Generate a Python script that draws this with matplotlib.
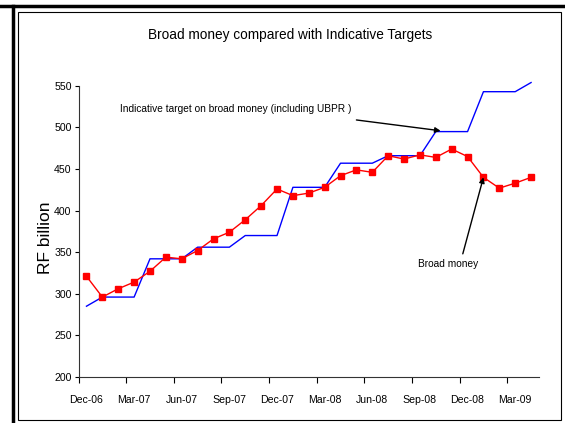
import matplotlib.pyplot as plt
from matplotlib.lines import Line2D
from matplotlib.patches import Rectangle

# monthly data, Dec-06 .. Apr-09
months = ['Dec-06', 'Jan-07', 'Feb-07', 'Mar-07', 'Apr-07', 'May-07', 'Jun-07',
          'Jul-07', 'Aug-07', 'Sep-07', 'Oct-07', 'Nov-07', 'Dec-07',
          'Jan-08', 'Feb-08', 'Mar-08', 'Apr-08', 'May-08', 'Jun-08',
          'Jul-08', 'Aug-08', 'Sep-08', 'Oct-08', 'Nov-08', 'Dec-08',
          'Jan-09', 'Feb-09', 'Mar-09', 'Apr-09']
broad_money = [321, 296, 306, 314, 327, 344, 342, 352, 366, 374, 389, 406, 426,
               418, 421, 428, 442, 449, 446, 466, 462, 467, 464, 474, 465,
               440, 427, 433, 440]
target = [285, 296, 296, 296, 342, 342, 342, 356, 356, 356, 370, 370, 370,
          428, 428, 428, 457, 457, 457, 466, 466, 466, 495, 495, 495,
          543, 543, 543, 554]
yticks = [200, 250, 300, 350, 400, 450, 500, 550]

plt.rcParams['font.family'] = ['Liberation Sans', 'DejaVu Sans']

x = list(range(len(months)))

fig = plt.figure(figsize=(5.65, 4.23), dpi=100)
ax = fig.add_axes([0.139, 0.109, 0.815, 0.688])

ax.plot(x, target, color='#0000ff', lw=1.0, clip_on=False)
ax.plot(x, broad_money, color='#ff0000', lw=1.0, marker='s', markersize=3.7)

ax.set_xlim(-0.5, len(months) - 0.5)
ax.set_ylim(200, 550)
ax.set_yticks(yticks)
ax.tick_params(axis='y', length=3, width=0.8, labelsize=7.6, pad=2)

ax.set_xticks(x[::3])
ax.set_xticklabels(months[::3])
ax.set_xticks([i - 0.5 for i in range(0, len(months) + 1, 3)], minor=True)
ax.tick_params(axis='x', which='major', length=0, labelsize=7.6, pad=13)
ax.tick_params(axis='x', which='minor', length=4, width=0.8)

for s in ['top', 'right']:
    ax.spines[s].set_visible(False)
for s in ['left', 'bottom']:
    ax.spines[s].set_linewidth(0.8)
    ax.spines[s].set_color('#333333')

fig.text(46 / 565, 1 - 238 / 423, 'RF billion', rotation=90,
         ha='center', va='center', fontsize=12.5)

fig.text(0.513, 0.917, 'Broad money compared with Indicative Targets',
         ha='center', va='center', fontsize=9.8)

ax.annotate('', xy=(22.3, 496), xytext=(17.0, 509),
            arrowprops=dict(arrowstyle='-|>', color='black', lw=1.0,
                            mutation_scale=8, shrinkA=0, shrinkB=0))
ax.text(2.1, 522, 'Indicative target on broad money (including UBPR )',
        fontsize=7.3, va='center', ha='left')

ax.annotate('', xy=(25.0, 440), xytext=(23.7, 348),
            arrowprops=dict(arrowstyle='-|>', color='black', lw=1.0,
                            mutation_scale=8, shrinkA=0, shrinkB=0))
ax.text(22.8, 336, 'Broad money', fontsize=7.3, va='center', ha='center')

# chart frame
fig.add_artist(Rectangle((18 / 565, 3 / 423), 543 / 565, 408 / 423,
                         transform=fig.transFigure, fill=False,
                         lw=0.8, ec='black'))
fig.add_artist(Line2D([0, 1], [1 - 6 / 423] * 2, transform=fig.transFigure,
                      color='black', lw=2.5))
fig.add_artist(Line2D([13 / 565] * 2, [0, 1 - 6 / 423], transform=fig.transFigure,
                      color='black', lw=2.5))

fig.savefig('out.png', dpi=100)
